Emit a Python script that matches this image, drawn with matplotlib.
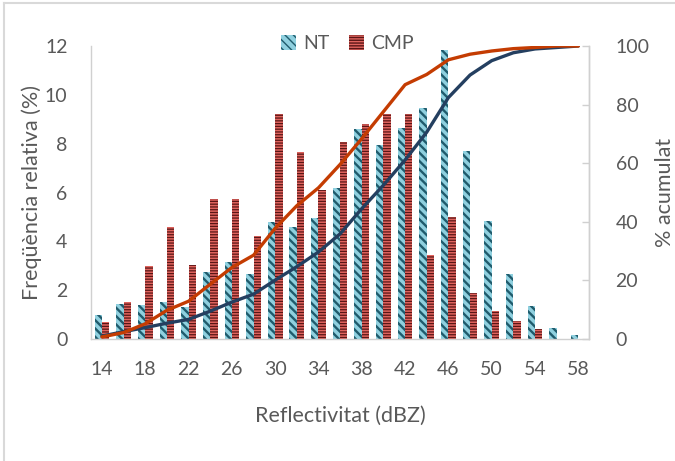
"""
Reflectivity distributions (NT vs CMP): relative frequency bars with
cumulative percentage lines on a secondary axis.
"""
import matplotlib
matplotlib.use("Agg")
import matplotlib.pyplot as plt
from matplotlib.lines import Line2D
import numpy as np

# Reflectivity bins (dBZ)
bins = [14, 16, 18, 20, 22, 24, 26, 28, 30, 32, 34, 36,
        38, 40, 42, 44, 46, 48, 50, 52, 54, 56, 58]

# Relative frequency (%)
freq_nt = [1.0, 1.45, 1.4, 1.5, 1.3, 2.75, 3.15, 2.65, 4.8, 4.6, 4.95, 6.2,
           8.6, 7.95, 8.65, 9.45, 11.85, 7.7, 4.85, 2.65, 1.35, 0.45, 0.15]
freq_cmp = [0.7, 1.5, 3.0, 4.6, 3.05, 5.75, 5.75, 4.2, 9.2, 7.65, 6.1, 8.05,
            8.8, 9.2, 9.2, 3.45, 5.0, 1.9, 1.15, 0.75, 0.4, 0.0, 0.0]

# Cumulative percentage
cum_nt = [1.0, 2.5, 3.9, 5.4, 6.7, 9.5, 12.6, 15.3, 20.1, 24.7, 29.7, 35.9,
          44.5, 52.5, 61.1, 70.6, 82.4, 90.1, 95.0, 97.7, 99.0, 99.5, 100.0]
cum_cmp = [0.7, 2.2, 5.2, 9.8, 12.9, 18.7, 24.4, 28.6, 37.8, 45.5, 51.6, 59.6,
           68.4, 77.6, 86.8, 90.3, 95.3, 97.2, 98.3, 99.1, 99.5, 100.0, 100.0]

TXT = "#595959"
GRID = "#d0d0d0"
TICK_FS = 14
LABEL_FS = 15.5

plt.rcParams["font.family"] = ["Lato", "DejaVu Sans"]

fig = plt.figure(figsize=(6.75, 4.61), dpi=100)
ax = fig.add_axes([0.135, 0.2646, 0.7378, 0.6356])
ax2 = ax.twinx()

x = np.arange(len(bins))
w = 0.34


def hatched_bars(offset, values, face, stripe, hatch, hlw, label):
    with plt.rc_context({"hatch.linewidth": hlw}):
        bars = ax.bar(x + offset, values, w, facecolor=face, edgecolor=stripe,
                      linewidth=0, hatch=hatch, label=label, zorder=2)
    for b in bars:
        if hasattr(b, "set_hatch_linewidth"):
            b.set_hatch_linewidth(hlw)
    return bars


hatched_bars(-w / 2, freq_nt, "#8fd0df", "#1f5b6c", "\\\\\\\\", 1.7, "NT")
hatched_bars(w / 2, freq_cmp, "#e0645e", "#5a1616", "------", 0.9, "CMP")

ax2.plot(x, cum_nt, color="#243f60", lw=2.4, solid_capstyle="round")
ax2.plot(x, cum_cmp, color="#c43c02", lw=2.4, solid_capstyle="round")

ax.set_xlim(-0.5, len(bins) - 0.5)
ax.set_ylim(0, 12)
ax2.set_ylim(0, 100)
ax.set_yticks(range(0, 13, 2))
ax2.set_yticks(range(0, 101, 20))
ax.set_xticks(x[::2])
ax.set_xticklabels([str(b) for b in bins[::2]])

ax.tick_params(axis="x", length=0, pad=16, labelsize=TICK_FS, colors=TXT)
ax.tick_params(axis="y", length=0, pad=17, labelsize=TICK_FS, colors=TXT)
ax2.tick_params(axis="y", direction="in", length=5, width=1, color=GRID,
                pad=19, labelsize=TICK_FS, labelcolor=TXT)

for a in (ax, ax2):
    for side, sp in a.spines.items():
        sp.set_color(GRID)
        sp.set_linewidth(1)
    a.spines["top"].set_visible(False)
ax2.spines["left"].set_visible(False)
ax2.spines["bottom"].set_visible(False)

ax.set_xlabel("Reflectivitat (dBZ)", fontsize=LABEL_FS, color=TXT, labelpad=20)
ax.set_ylabel("Freqüència relativa (%)", fontsize=LABEL_FS, color=TXT, labelpad=2)
ax2.set_ylabel("% acumulat", fontsize=LABEL_FS, color=TXT, labelpad=4)

fig.legend(loc="center", bbox_to_anchor=(0.515, 0.905), ncol=2, frameon=False,
           fontsize=TICK_FS, labelcolor=TXT, handlelength=0.75, handleheight=0.75,
           handletextpad=0.4, columnspacing=1.0)

# thin frame along the top and left edges
fig.add_artist(Line2D([0.006, 1.0], [0.993, 0.993], color="#d9d9d9", lw=1.5))
fig.add_artist(Line2D([0.006, 0.006], [0.0, 0.993], color="#d9d9d9", lw=1.5))

fig.savefig("out.png", dpi=100)
